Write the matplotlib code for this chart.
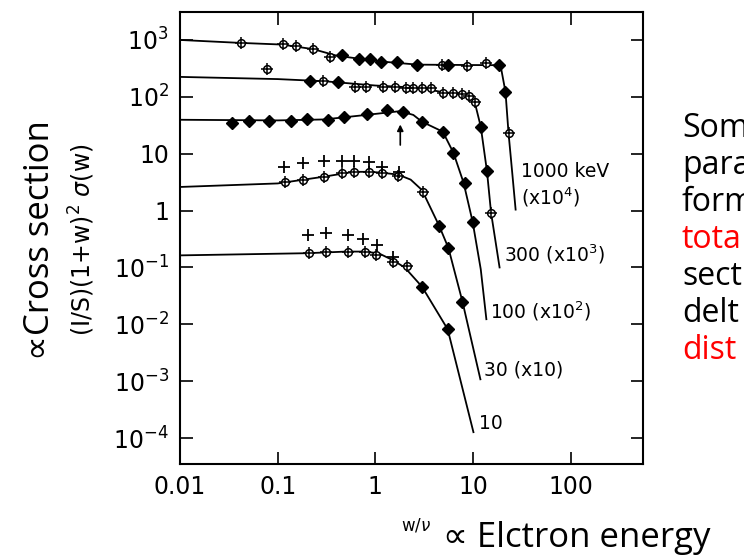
import matplotlib.pyplot as plt
from matplotlib.ticker import FixedLocator, NullLocator

# ---- data ----
# 1000 keV (x10^4)
line_1000_x = [0.01, 0.04, 0.11, 0.23, 0.4, 0.7, 1.2, 2.7, 10, 18, 19.5, 21.5, 23.1, 25.1, 27.3]
line_1000_y = [1000, 890, 830, 690, 530, 465, 415, 368, 362, 360, 300, 122, 23, 5.0, 1.04]
circ_1000_x = [0.042, 0.114, 0.155, 0.23, 0.345, 4.87, 8.6, 13.7, 23.1]
circ_1000_y = [890, 850, 785, 695, 503, 364, 350, 395, 23]
diam_1000_x = [0.457, 0.686, 0.89, 1.15, 1.68, 2.7, 5.6, 18.3, 21.5]
diam_1000_y = [545, 465, 465, 411, 411, 365, 364, 364, 122]

# 300 keV (x10^3)
line_300_x = [0.01, 0.1, 0.3, 1.0, 2.8, 5.0, 7.8, 9.0, 10.4, 12.0, 13.9, 15.3, 18.7]
line_300_y = [224, 205, 188, 158, 144, 120, 113, 104, 81, 30, 4.9, 0.92, 0.1]
circ_300_x = [0.078, 0.29, 0.62, 0.81, 1.21, 1.6, 2.07, 2.45, 3.0, 3.7, 4.98, 6.3, 7.8, 9.0, 10.4, 15.3]
circ_300_y = [310, 191, 150, 150, 150, 148, 145, 144, 144, 144, 117, 117, 113, 104, 81, 0.92]
diam_300_x = [0.215, 0.41, 12.0, 13.9]
diam_300_y = [191, 184, 30, 4.9]

# 100 keV (x10^2)
line_100_x = [0.01, 0.1, 0.3, 0.8, 1.8, 2.45, 3.0, 4.9, 6.3, 8.0, 9.9, 12.0, 13.7]
line_100_y = [39.5, 38.5, 40, 48, 56, 48, 36.5, 24.4, 10.4, 3.1, 0.64, 0.093, 0.0123]
diam_100_x = [0.034, 0.051, 0.082, 0.137, 0.2, 0.33, 0.48, 0.83, 1.33, 1.94, 3.0, 4.9, 6.3, 8.2, 9.9]
diam_100_y = [34, 38, 38, 38, 41, 39.5, 45, 50, 59, 54, 36.5, 24.4, 10.4, 3.1, 0.64]

# 30 keV (x10)
line_30_x = [0.01, 0.1, 0.3, 0.6, 0.9, 1.2, 1.7, 2.3, 3.0, 4.5, 5.6, 7.8, 11.9]
line_30_y = [2.6, 3.0, 3.95, 4.8, 4.8, 4.6, 4.3, 3.5, 2.3, 0.54, 0.22, 0.025, 0.00108]
circ_30_x = [0.119, 0.183, 0.3, 0.46, 0.61, 0.87, 1.18, 1.7, 3.04]
circ_30_y = [3.2, 3.4, 3.95, 4.6, 4.8, 4.8, 4.6, 4.1, 2.15]
diam_30_x = [4.5, 5.6, 7.8]
diam_30_y = [0.54, 0.22, 0.025]
plus_30_x = [0.117, 0.18, 0.3, 0.46, 0.6, 0.87, 1.18, 1.76]
plus_30_y = [5.9, 7.0, 7.5, 7.5, 7.5, 7.2, 5.9, 4.8]

# 10 keV
line_10_x = [0.01, 0.2, 0.5, 0.8, 1.1, 1.5, 2.0, 3.0, 5.5, 10.1]
line_10_y = [0.163, 0.178, 0.19, 0.19, 0.175, 0.135, 0.1, 0.046, 0.0082, 0.000127]
circ_10_x = [0.21, 0.31, 0.53, 0.79, 1.02, 1.53, 2.1]
circ_10_y = [0.177, 0.19, 0.19, 0.19, 0.163, 0.123, 0.106]
diam_10_x = [3.0, 5.5]
diam_10_y = [0.046, 0.0082]
plus_10_x = [0.205, 0.31, 0.53, 0.75, 1.05, 1.53]
plus_10_y = [0.373, 0.41, 0.373, 0.31, 0.25, 0.15]

x_ticks = [0.01, 0.1, 1, 10, 100]
x_labels = ['0.01', '0.1', '1', '10', '100']
y_ticks = [1e-4, 1e-3, 1e-2, 1e-1, 1, 10, 1e2, 1e3]
y_labels = [r'$\mathregular{10^{-4}}$', r'$\mathregular{10^{-3}}$', r'$\mathregular{10^{-2}}$',
            r'$\mathregular{10^{-1}}$', '1', '10', r'$\mathregular{10^{2}}$', r'$\mathregular{10^{3}}$']

side_lines = ['Som', 'para', 'form', 'tota', 'sect', 'delt', 'dist']
side_colors = ['black', 'black', 'black', 'red', 'black', 'black', 'red']

W, H = 744, 557
fig = plt.figure(figsize=(W / 100, H / 100), dpi=100)
ax = fig.add_axes([180 / W, 1 - 464 / H, (643 - 180) / W, (464 - 12) / H])
ax.set_xscale('log')
ax.set_yscale('log')
ax.set_xlim(0.01, 550)
ax.set_ylim(3.5e-5, 3100)

curves = [
    (line_1000_x, line_1000_y, circ_1000_x, circ_1000_y, diam_1000_x, diam_1000_y, [], []),
    (line_300_x, line_300_y, circ_300_x, circ_300_y, diam_300_x, diam_300_y, [], []),
    (line_100_x, line_100_y, [], [], diam_100_x, diam_100_y, [], []),
    (line_30_x, line_30_y, circ_30_x, circ_30_y, diam_30_x, diam_30_y, plus_30_x, plus_30_y),
    (line_10_x, line_10_y, circ_10_x, circ_10_y, diam_10_x, diam_10_y, plus_10_x, plus_10_y),
]
for lx, ly, cx, cy, dx, dy, px, py in curves:
    ax.plot(lx, ly, color='black', lw=1.3)
    ax.plot(cx, cy, 'o', ms=5.5, mfc='white', mec='black', mew=1.1, ls='none')
    ax.plot(cx, cy, '+', ms=8, color='black', mew=1.1, ls='none')
    ax.plot(dx, dy, 'D', ms=6, color='black', ls='none')
    ax.plot(px, py, '+', ms=9, color='black', mew=1.3, ls='none')

# arrow under the 100 keV curve
ax.annotate('', xy=(1.8, 36.5), xytext=(1.8, 12.7),
            arrowprops=dict(arrowstyle='-|>', color='black', lw=1.2, mutation_scale=9))

lab = dict(fontsize=13.5, va='center', ha='left', color='black')
ax.text(30.7, 4.8, '1000 keV', **lab)
ax.text(30.7, 1.74, r'(x10$^4$)', **lab)
ax.text(20.6, 0.17, r'300 (x10$^3$)', **lab)
ax.text(15.1, 0.0167, r'100 (x10$^2$)', **lab)
ax.text(13.1, 1.6e-3, '30 (x10)', **lab)
ax.text(11.4, 1.8e-4, '10', **lab)

ax.xaxis.set_major_locator(FixedLocator(x_ticks))
ax.yaxis.set_major_locator(FixedLocator(y_ticks))
ax.xaxis.set_minor_locator(NullLocator())
ax.yaxis.set_minor_locator(NullLocator())
ax.set_xticklabels(x_labels)
ax.set_yticklabels(y_labels)
ax.tick_params(which='major', direction='in', length=9, width=1.2, top=True, right=True,
               labelsize=17, pad=8)
for s in ax.spines.values():
    s.set_linewidth(1.5)

# inner axis label of the scanned figure
fig.text(82 / W, 1 - 240 / H, r'(I/S)(1+w)$^2$ $\sigma$(w)', rotation=90,
         fontsize=17, ha='center', va='center')
fig.text(416 / W, 1 - 525 / H, r'w/$\nu$', fontsize=12, ha='center', va='center')

# slide annotations
big = ['Open Sans', 'DejaVu Sans']
fig.text(40 / W, 1 - 240 / H, '\u221dCross section', rotation=90, fontsize=25,
         family=big, ha='center', va='center')
fig.text(443 / W, 1 - 547 / H, '\u221d Elctron energy', fontsize=25, family=big,
         ha='left', va='baseline')
for i, (t, c) in enumerate(zip(side_lines, side_colors)):
    fig.text(682 / W, 1 - (137 + 37 * i) / H, t, fontsize=23, family=big, color=c,
             ha='left', va='baseline')

fig.savefig('out.png', dpi=100)
